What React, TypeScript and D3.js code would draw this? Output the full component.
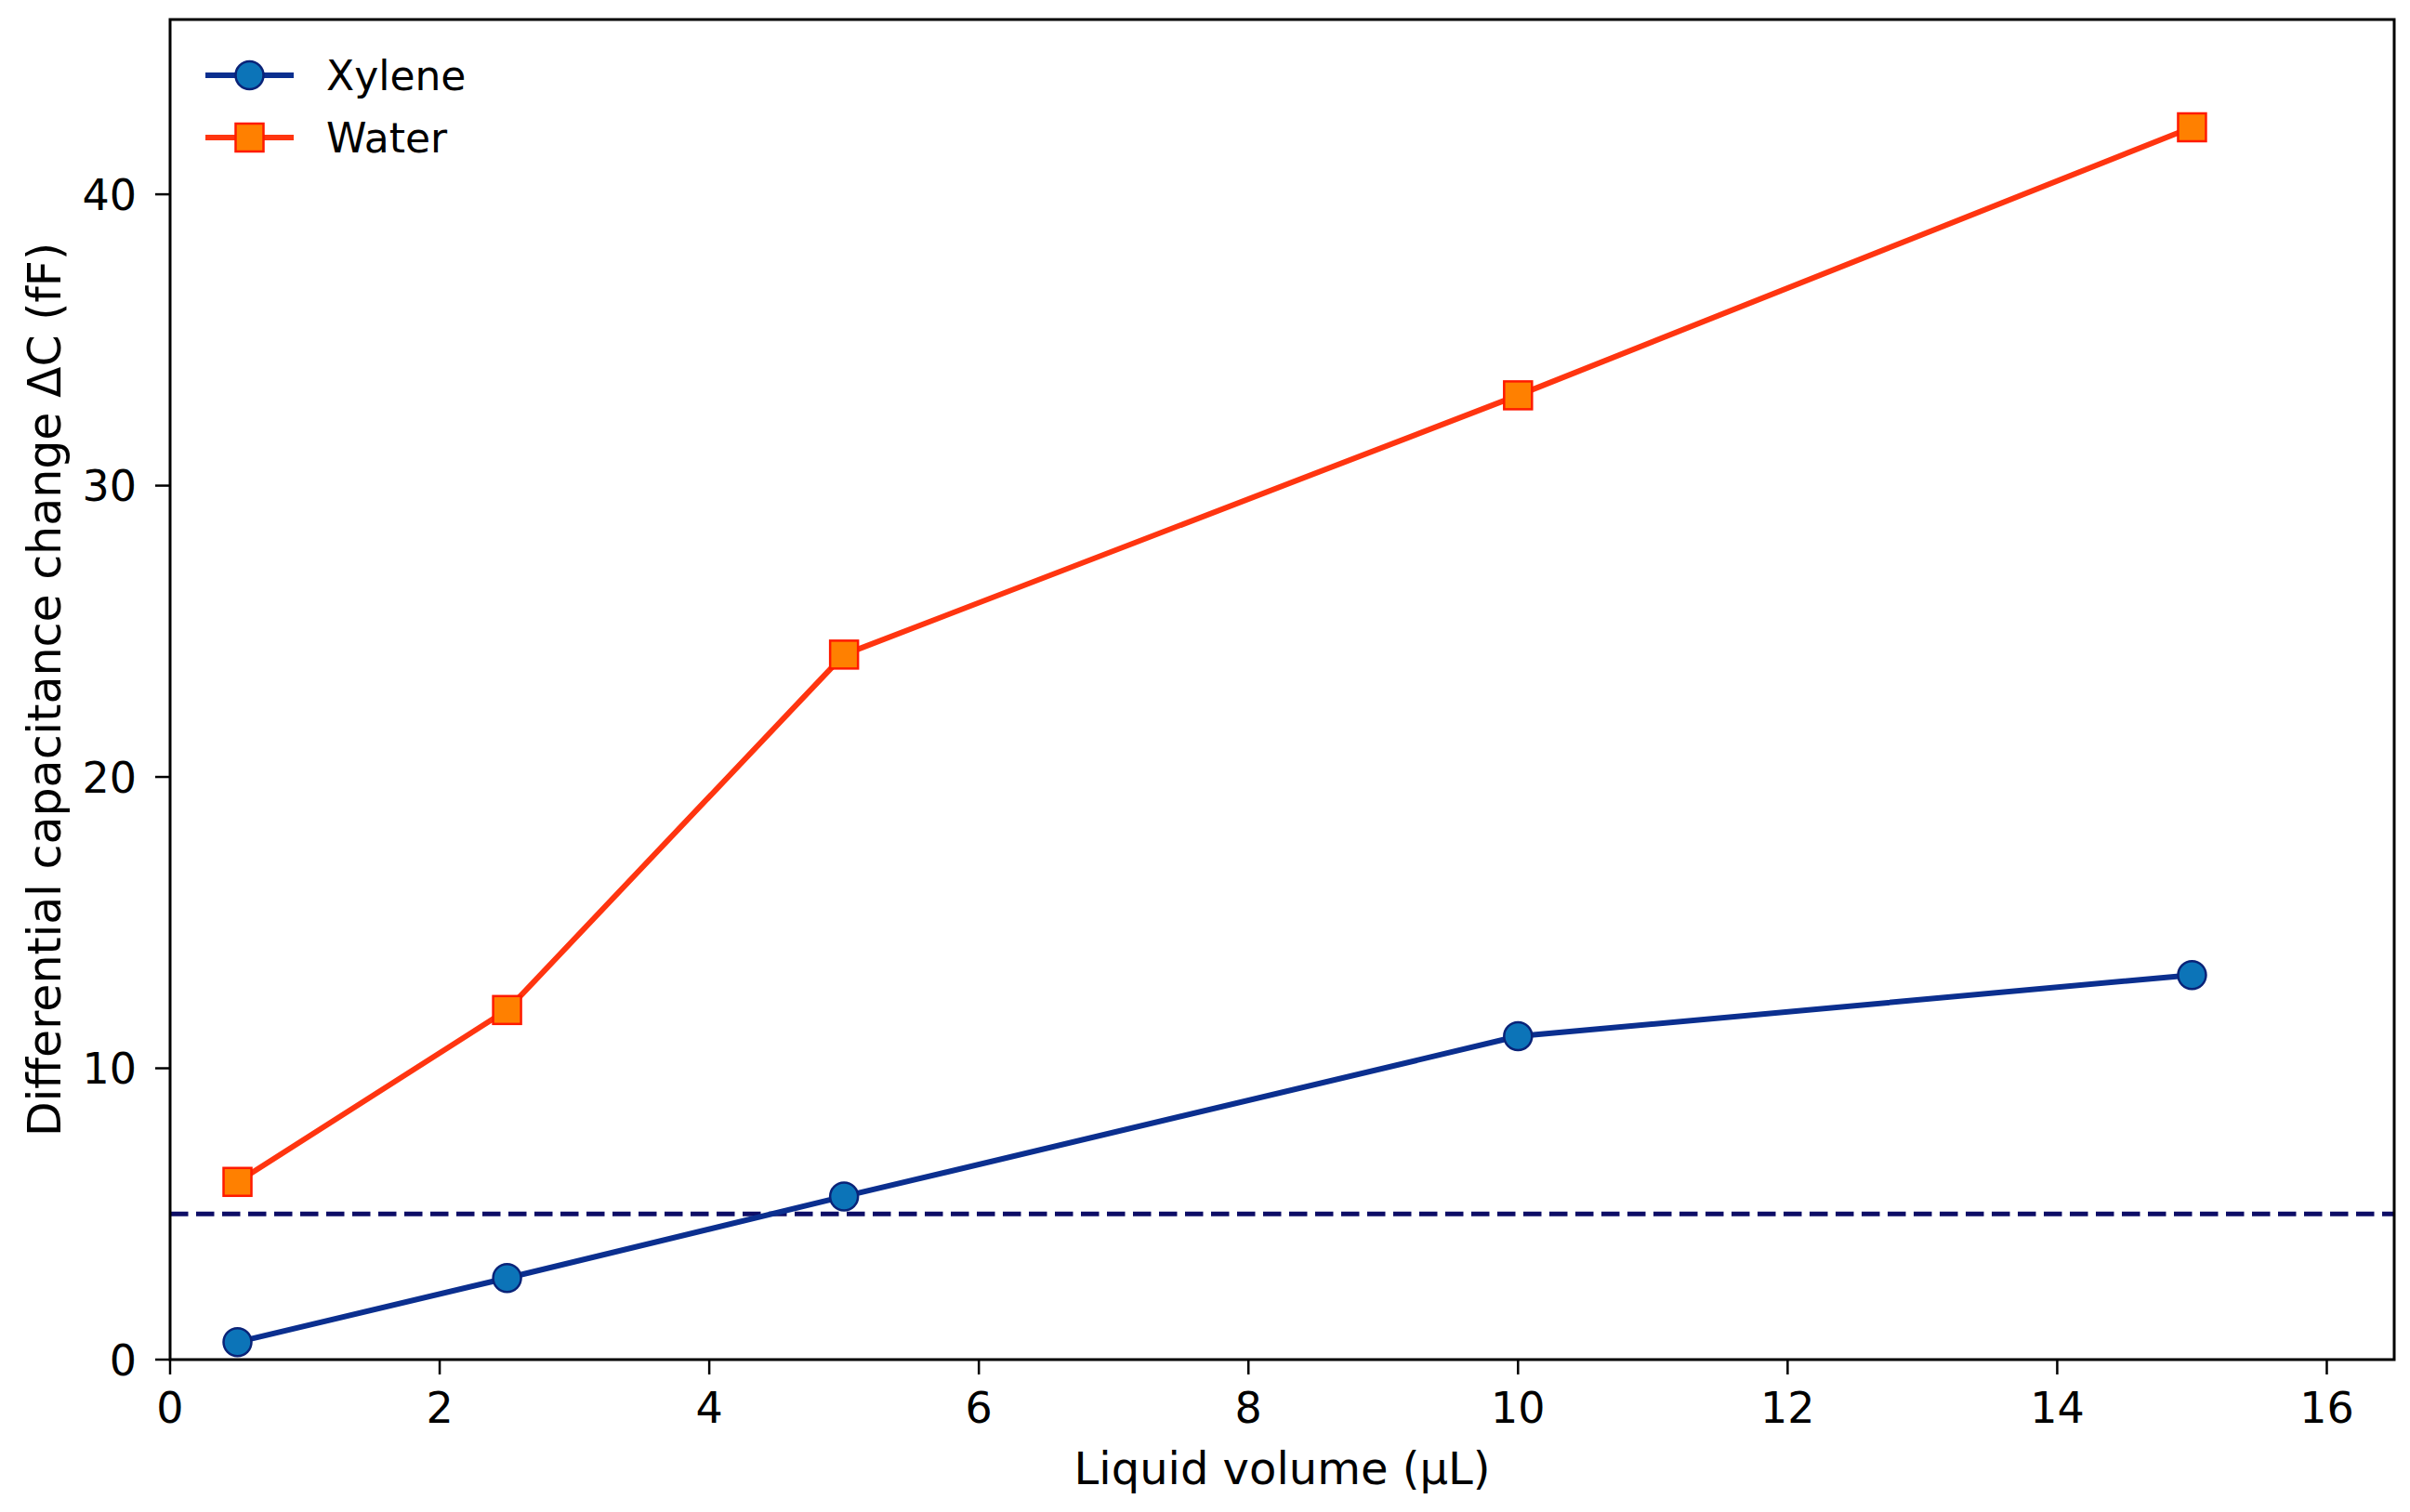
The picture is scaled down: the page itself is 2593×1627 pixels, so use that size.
import React, { useEffect } from "react";
import * as d3 from "d3";

const volumes = [0.5, 2.5, 5, 10, 15];
const xyleneValues = [0.6, 2.8, 5.6, 11.1, 13.2];
const waterValues = [6.1, 12.0, 24.2, 33.1, 42.3];
const thresholdValue = 5;
const xTicks = [0, 2, 4, 6, 8, 10, 12, 14, 16];
const yTicks = [0, 10, 20, 30, 40];
const seriesNames = ["Xylene", "Water"];

const W = 2593;
const H = 1627;
const left = 183;
const right = 2576;
const top = 21;
const bottom = 1463;
const FONT = "'DejaVu Sans', sans-serif";

const BLUE_LINE = "#0b2f8f";
const BLUE_FILL = "#0c74b8";
const BLUE_EDGE = "#0a2378";
const RED_LINE = "#ff3510";
const RED_FILL = "#ff8000";
const RED_EDGE = "#ff1a00";
const DASH = "#0d0d66";

export default function App() {
  useEffect(() => {
    document.body.style.margin = "0";
  }, []);

  const x = d3.scaleLinear().domain([0, 16.5]).range([left, right]);
  const y = d3.scaleLinear().domain([0, 46]).range([bottom, top]);

  const line = d3
    .line<number>()
    .x((_, i) => x(volumes[i]))
    .y((d) => y(d));

  const ms = 30;

  const legendY = [81, 148];

  return (
    <svg width={W} height={H} style={{ display: "block", background: "#fff" }}>
      <rect x={0} y={0} width={W} height={H} fill="#fff" />
      {/* threshold dashed line */}
      <line
        x1={left}
        x2={right}
        y1={y(thresholdValue)}
        y2={y(thresholdValue)}
        stroke={DASH}
        strokeWidth={5}
        strokeDasharray="19.5 8.5"
      />
      {/* Water */}
      <path d={line(waterValues) || ""} fill="none" stroke={RED_LINE} strokeWidth={6} strokeLinejoin="round" />
      {waterValues.map((v, i) => (
        <rect
          key={"w" + i}
          x={x(volumes[i]) - ms / 2}
          y={y(v) - ms / 2}
          width={ms}
          height={ms}
          fill={RED_FILL}
          stroke={RED_EDGE}
          strokeWidth={2.5}
        />
      ))}
      {/* Xylene */}
      <path d={line(xyleneValues) || ""} fill="none" stroke={BLUE_LINE} strokeWidth={6} strokeLinejoin="round" />
      {xyleneValues.map((v, i) => (
        <circle
          key={"x" + i}
          cx={x(volumes[i])}
          cy={y(v)}
          r={ms / 2}
          fill={BLUE_FILL}
          stroke={BLUE_EDGE}
          strokeWidth={2.5}
        />
      ))}
      {/* axes frame */}
      <rect
        x={left}
        y={top}
        width={right - left}
        height={bottom - top}
        fill="none"
        stroke="#000"
        strokeWidth={3}
      />
      {/* x ticks */}
      {xTicks.map((t) => (
        <g key={"xt" + t}>
          <line x1={x(t)} x2={x(t)} y1={bottom} y2={bottom + 16} stroke="#000" strokeWidth={2.5} />
          <text
            x={x(t)}
            y={1531}
            textAnchor="middle"
            fontFamily={FONT}
            fontSize={46}
            fill="#000"
          >
            {t}
          </text>
        </g>
      ))}
      {/* y ticks */}
      {yTicks.map((t) => (
        <g key={"yt" + t}>
          <line x1={left - 16} x2={left} y1={y(t)} y2={y(t)} stroke="#000" strokeWidth={2.5} />
          <text
            x={147}
            y={y(t) + 16.5}
            textAnchor="end"
            fontFamily={FONT}
            fontSize={46}
            fill="#000"
          >
            {t}
          </text>
        </g>
      ))}
      {/* axis labels */}
      <text
        x={(left + right) / 2}
        y={1597}
        textAnchor="middle"
        fontFamily={FONT}
        fontSize={48}
        fill="#000"
      >
        Liquid volume (µL)
      </text>
      <text
        transform={`translate(65, ${(top + bottom) / 2}) rotate(-90)`}
        textAnchor="middle"
        fontFamily={FONT}
        fontSize={49}
        fill="#000"
      >
        Differential capacitance change ΔC (fF)
      </text>
      {/* legend */}
      <g>
        <line x1={221} x2={316} y1={legendY[0]} y2={legendY[0]} stroke={BLUE_LINE} strokeWidth={6} />
        <circle cx={268.5} cy={legendY[0]} r={ms / 2} fill={BLUE_FILL} stroke={BLUE_EDGE} strokeWidth={2.5} />
        <text x={351} y={legendY[0] + 16} fontFamily={FONT} fontSize={44} fill="#000">
          {seriesNames[0]}
        </text>
        <line x1={221} x2={316} y1={legendY[1]} y2={legendY[1]} stroke={RED_LINE} strokeWidth={6} />
        <rect
          x={268.5 - ms / 2}
          y={legendY[1] - ms / 2}
          width={ms}
          height={ms}
          fill={RED_FILL}
          stroke={RED_EDGE}
          strokeWidth={2.5}
        />
        <text x={351} y={legendY[1] + 16} fontFamily={FONT} fontSize={44} fill="#000">
          {seriesNames[1]}
        </text>
      </g>
    </svg>
  );
}
